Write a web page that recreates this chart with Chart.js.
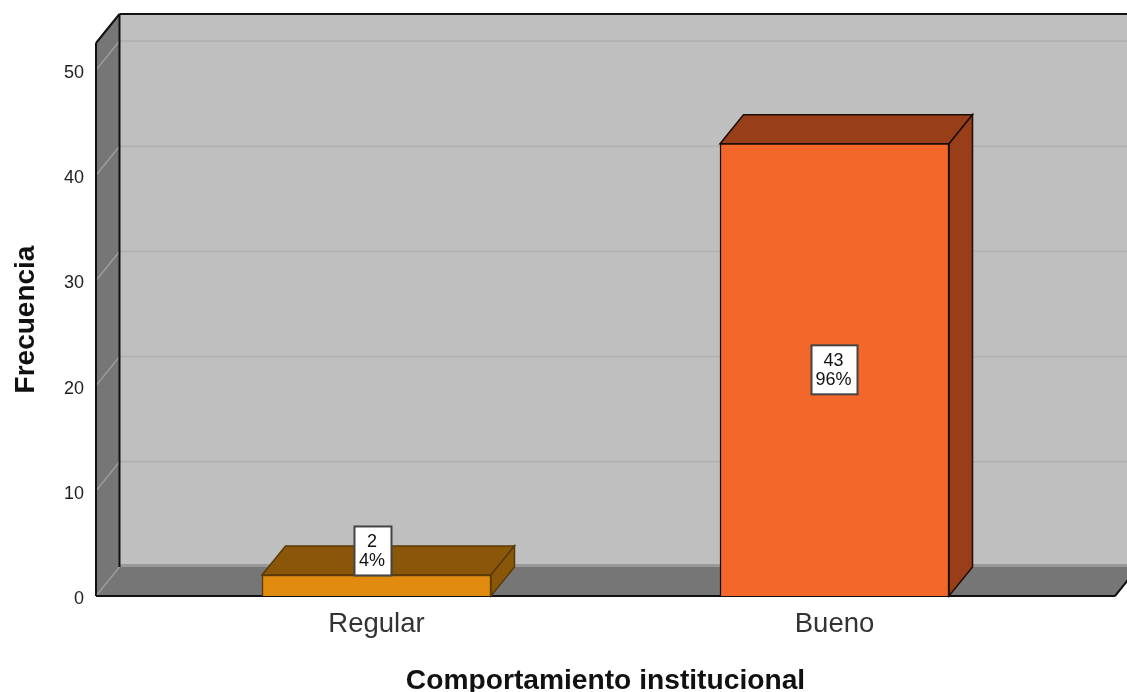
<!DOCTYPE html>
<html><head><meta charset="utf-8">
<style>html,body{margin:0;padding:0;background:#fff}canvas{display:block}</style>
<script src="https://cdn.jsdelivr.net/npm/chart.js@4/dist/chart.umd.min.js"></script>
</head><body><canvas id="c" width="1127" height="692"></canvas>
<script>
const categories = ["Regular", "Bueno"];
const counts = [2, 43];
const percents = ["4%", "96%"];
const frontColors = ["#e08a0f", "#f4672a"];
const sideColors = ["#8a570a", "#983e18"];
const edgeColors = ["#5a3a08", "#1a0d06"];
const yTicks = [0, 10, 20, 30, 40, 50];
const xTitle = "Comportamiento institucional";
const yTitle = "Frecuencia";
const DX = 23.5, DY = -29;

function poly(ctx, pts, fill, stroke, lw) {
  ctx.beginPath();
  pts.forEach((p, i) => i ? ctx.lineTo(p[0], p[1]) : ctx.moveTo(p[0], p[1]));
  ctx.closePath();
  if (fill) { ctx.fillStyle = fill; ctx.fill(); }
  if (stroke) { ctx.strokeStyle = stroke; ctx.lineWidth = lw || 1; ctx.stroke(); }
}
function seg(ctx, x1, y1, x2, y2, c, w) {
  ctx.beginPath(); ctx.moveTo(x1, y1); ctx.lineTo(x2, y2);
  ctx.strokeStyle = c; ctx.lineWidth = w; ctx.stroke();
}
const box3d = {
  id: "box3d",
  beforeDatasetsDraw(chart) {
    const { ctx, chartArea: a, scales: { y } } = chart;
    const L = a.left, R = a.right, T = a.top, B = a.bottom;
    ctx.save();
    poly(ctx, [[L + DX, T + DY], [1127 + 40, T + DY], [1127 + 40, B + DY], [L + DX, B + DY]], "#bfbfbf");
    poly(ctx, [[L, T], [L + DX, T + DY], [L + DX, B + DY], [L, B]], "#767676");
    poly(ctx, [[L, B], [L + DX, B + DY], [R + DX, B + DY], [R, B]], "#767676");
    seg(ctx, L + DX, B + DY - 1.5, 1127, B + DY - 1.5, "#999999", 3);
    yTicks.forEach(v => {
      const p = y.getPixelForValue(v);
      if (v > 0) seg(ctx, L + DX, p + DY, 1127, p + DY, "#b3b3b3", 2);
      seg(ctx, L, p, L + DX, p + DY, "#9c9c9c", 1.5);
    });
    seg(ctx, L + DX, T + DY, 1127, T + DY, "#111", 2);
    seg(ctx, L + DX, T + DY, L + DX, B + DY, "#111", 2);
    seg(ctx, L, T, L, B, "#111", 2);
    seg(ctx, L, T, L + DX, T + DY, "#111", 2);
    seg(ctx, L, B, R, B, "#111", 2);
    seg(ctx, R, B, R + DX, B + DY, "#111", 2);
    const bars = chart.getDatasetMeta(0).data;
    bars.forEach((b, i) => {
      const l = b.x - b.width / 2, r = b.x + b.width / 2;
      poly(ctx, [[l, b.y], [l + DX, b.y + DY], [r + DX, b.y + DY], [r, b.y]], sideColors[i], edgeColors[i], 1.5);
      poly(ctx, [[r, b.y], [r + DX, b.y + DY], [r + DX, B + DY], [r, B]], sideColors[i], edgeColors[i], 1.5);
    });
    ctx.restore();
  },
  afterDatasetsDraw(chart) {
    const { ctx, scales: { y } } = chart;
    const bars = chart.getDatasetMeta(0).data;
    const W = [37, 46], H = 49, shift = [-3.5, 0];
    ctx.save();
    bars.forEach((b, i) => {
      const mid = (b.y + y.getPixelForValue(0)) / 2;
      const useY = b.height > H ? mid : b.y - H / 2 + 0.5;
      const cx = b.x + shift[i], w = W[i];
      ctx.fillStyle = "#fff";
      ctx.fillRect(cx - w / 2, useY - H / 2, w, H);
      ctx.strokeStyle = "#444"; ctx.lineWidth = 2;
      ctx.strokeRect(cx - w / 2, useY - H / 2, w, H);
      ctx.fillStyle = "#111"; ctx.textAlign = "center"; ctx.textBaseline = "middle";
      ctx.font = "18px 'Liberation Sans'";
      ctx.fillText(String(counts[i]), cx - 1, useY - 9);
      ctx.fillText(percents[i], cx - 1, useY + 10);
    });
    ctx.restore();
  }
};
new Chart(document.getElementById("c"), {
  type: "bar",
  data: {
    datasets: [{
      data: categories.map((c, i) => ({ x: i, y: counts[i] })),
      backgroundColor: frontColors,
      borderColor: edgeColors,
      borderWidth: 1.5,
      barThickness: 229
    }]
  },
  options: {
    responsive: false, animation: false,
    layout: { padding: { top: 43, right: 12, left: 0, bottom: 0 } },
    plugins: { legend: { display: false }, tooltip: { enabled: false } },
    scales: {
      x: {
        type: "linear", min: -0.6124, max: 1.6124, offset: false,
        afterBuildTicks(s) { s.ticks = categories.map((c, i) => ({ value: i })); },
        afterFit(s) { s.height = 96; },
        grid: { display: false, drawTicks: false }, border: { display: false },
        ticks: { padding: 12, color: "#333", maxRotation: 0, font: { family: "Liberation Sans", size: 27.5 },
          callback: v => categories[v] },
        title: { display: true, text: xTitle, color: "#111", padding: { top: 0, bottom: -6 },
          font: { family: "Liberation Sans", size: 28.2, weight: "bold" } }
      },
      y: {
        min: 0, max: 52.57,
        afterFit(s) { s.width = 96; },
        grid: { display: false, drawTicks: false }, border: { display: false },
        ticks: { stepSize: 10, includeBounds: false, padding: 12, labelOffset: 3, color: "#222", font: { family: "Liberation Sans", size: 18 } },
        title: { display: true, text: yTitle, color: "#111", padding: { top: 9, bottom: 0 },
          font: { family: "Liberation Sans", size: 28, weight: "bold" } }
      }
    }
  },
  plugins: [box3d]
});
</script></body></html>
